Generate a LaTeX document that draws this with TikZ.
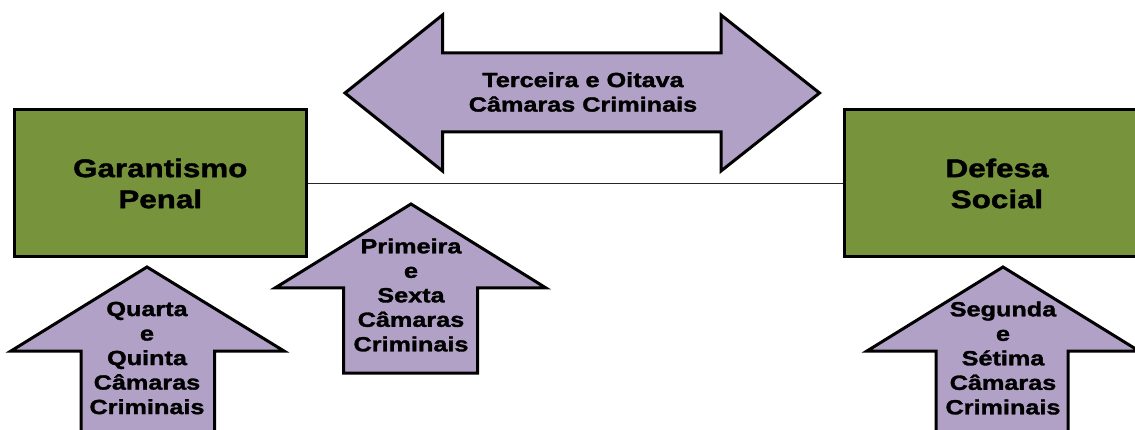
\documentclass[tikz,border=0pt]{standalone}
\usepackage{fontspec}
\setmainfont{Liberation Sans}[FakeStretch=1.23, BoldFeatures={FakeBold=1.6}]
\definecolor{boxgreen}{HTML}{77933C}
\definecolor{arrowpurple}{HTML}{B2A1C7}
\begin{document}
\begin{tikzpicture}[x=1pt,y=-1pt,
  boxstyle/.style={draw=black, fill=boxgreen, line width=3pt, minimum width=291.5pt, minimum height=147pt,
    font=\fontsize{25.5}{31}\selectfont\bfseries, align=center},
  arrowshape/.style={draw=black, fill=arrowpurple, line width=3pt, line join=miter},
  arrowtext/.style={font=\fontsize{20.5}{24.5}\selectfont\bfseries, align=center, inner sep=0pt},
  linkline/.style={draw=black!85, line width=1.5pt}]
\useasboundingbox (0,0) rectangle (1135,430);
\clip (0,0) rectangle (1135,430);
% boxes
\node[boxstyle] (gp) at (160.25,183.5) {Garantismo\\Penal};
\node[boxstyle, minimum width=306pt] (ds) at (997,183.5) {Defesa\\Social};
\draw[linkline] (gp.east) -- (ds.west);
% double arrow
\draw[arrowshape] (345,93) -- (442.5,15) -- (442.5,53) -- (721,53) -- (721,15) -- (819.5,93)
  -- (721,171) -- (721,132) -- (442.5,132) -- (442.5,171) -- cycle;
\node[arrowtext] (t38) at (583,92) {Terceira e Oitava\\Câmaras Criminais};
% up arrows
\draw[arrowshape] (147,267) -- (284,351) -- (214.5,351) -- (214.5,445) -- (81,445) -- (81,351) -- (11,351) -- cycle;
\node[arrowtext] (t45) at (147,358) {Quarta\\e\\Quinta\\Câmaras\\Criminais};
\draw[arrowshape] (411,204) -- (546,288) -- (477.5,288) -- (477.5,373) -- (343.6,373) -- (343.6,288) -- (275,288) -- cycle;
\node[arrowtext] (t16) at (411,295) {Primeira\\e\\Sexta\\Câmaras\\Criminais};
\draw[arrowshape] (1003,267) -- (1139,351) -- (1068,351) -- (1068,445) -- (936,445) -- (936,351) -- (867,351) -- cycle;
\node[arrowtext] (t27) at (1003,358) {Segunda\\e\\Sétima\\Câmaras\\Criminais};
\end{tikzpicture}
\end{document}
